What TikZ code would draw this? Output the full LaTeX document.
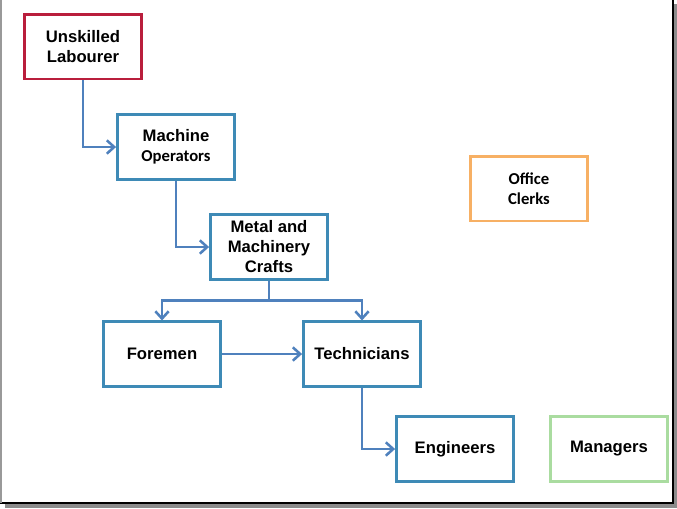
\documentclass[tikz,border=0pt]{standalone}
\usepackage{fontspec}
\setmainfont{Liberation Sans}
\newfontfamily\calibri{Carlito}
\usetikzlibrary{arrows.meta}
\definecolor{boxblue}{RGB}{62,138,182}
\definecolor{arrowblue}{RGB}{79,129,189}
\definecolor{boxred}{RGB}{185,30,60}
\definecolor{boxorange}{RGB}{247,176,100}
\definecolor{boxgreen}{RGB}{170,220,160}

\begin{document}
\begin{tikzpicture}[x=0.75pt,y=-0.75pt,
  job/.style={draw=boxblue,line width=1.9pt,minimum width=88pt,minimum height=48.4pt,
    align=center,font=\bfseries\fontsize{12.5}{15}\selectfont},
  link/.style={draw=arrowblue,line width=1.9pt,-{Straight Barb[length=5.5pt,width=10pt]}}]
  \useasboundingbox (0,0) rectangle (677,508);
  % slide frame with its shadow
  \fill[gray!90] (5,4) rectangle (677,508);
  \draw[fill=white,line width=0.8pt] (1,-3) rectangle (673,503);
  \draw[gray!80,line width=1.5pt] (1,0) -- (1,503);

  \node[job,draw=boxred] (lab) at (83,46.5) {Unskilled\\Labourer};
  \node[job] (mach) at (176,147) {Machine\\{\calibri Operators}};
  \node[job] (metal) at (269,247) {Metal and\\Machinery\\Crafts};
  \node[job] (fore) at (162,354) {Foremen};
  \node[job] (tech) at (362,354) {Technicians};
  \node[job] (eng) at (455,449) {Engineers};
  \node[job,draw=boxgreen] (mgr) at (609,449) {Managers};
  \node[job,draw=boxorange,font=\calibri\bfseries\fontsize{12.5}{15}\selectfont] (clerk) at (529,188.5) {Office\\Clerks};

  \coordinate (split) at ([yshift=-15pt]metal.south);
  \draw[link] (lab.south) |- (mach.west);
  \draw[link] (mach.south) |- (metal.west);
  \draw[link] (metal.south) -- (split) -| (fore.north);
  \draw[link] (split) -| (tech.north);
  \draw[link] (fore) -- (tech);
  \draw[link] (tech.south) |- (eng.west);
\end{tikzpicture}
\end{document}
